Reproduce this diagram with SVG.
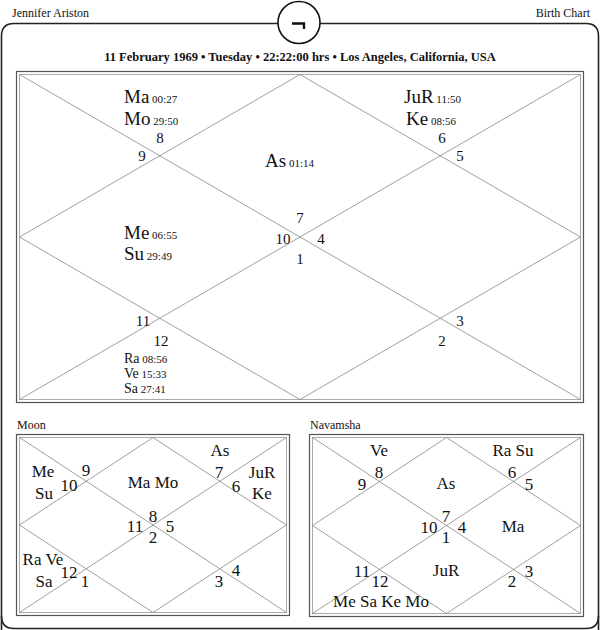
<svg xmlns="http://www.w3.org/2000/svg" width="600" height="630" viewBox="0 0 600 630">
<style>
text{font-family:"Liberation Serif","Times New Roman",serif;fill:#111}
.b{font-size:19px}
.s{font-size:11px}
.n{font-size:15px}
.m{font-size:17px}
.h{font-size:12px}
.bo{fill:none;stroke:#555;stroke-width:1.2}
.bi{fill:none;stroke:#aaa;stroke-width:1}
.ln{stroke:#888;stroke-width:0.8;fill:none}
.c{text-anchor:middle}
</style>
<rect width="600" height="630" fill="#fff"/>
<path d="M1.5,630 V36 Q1.5,23.5 14,23.5 H586 Q598.5,23.5 598.5,36 V630" fill="none" stroke="#222" stroke-width="1.6"/>
<path d="M1.5,616 Q1.5,628.5 14,628.5 H586 Q598.5,628.5 598.5,616" fill="none" stroke="#222" stroke-width="1.6"/>
<g id="header">
<text class="h" x="12" y="17">Jennifer Ariston</text>
<text class="h" x="590" y="17" text-anchor="end">Birth Chart</text>
<circle cx="299" cy="22.5" r="21" fill="#fff" stroke="#111" stroke-width="1.6"/>
<path d="M292,23.5 H304 V29" fill="none" stroke="#111" stroke-width="2.4"/>
<text x="300" y="61" class="c" style="font-size:12.5px;font-weight:bold">11 February 1969 • Tuesday • 22:22:00 hrs • Los Angeles, California, USA</text>
</g>
<g id="main-chart">
<rect class="bo" x="16.5" y="71.5" width="567" height="331"/>
<rect class="bi" x="19.5" y="74.5" width="561" height="325"/>
<g id="main-lines">
<line class="ln" x1="19.5" y1="74.5" x2="580.5" y2="399.5"/>
<line class="ln" x1="580.5" y1="74.5" x2="19.5" y2="399.5"/>
<polygon class="ln" points="300,74.5 580.5,237 300,399.5 19.5,237"/>
</g>
<g id="main-h8"><text x="124" y="103"><tspan class="b">Ma</tspan><tspan class="s"> 00:27</tspan></text><text x="124" y="125"><tspan class="b">Mo</tspan><tspan class="s"> 29:50</tspan></text><text class="n c" x="160" y="143">8</text></g>
<g id="main-h9"><text class="n c" x="142" y="161">9</text></g>
<g id="main-h7"><text x="265" y="167"><tspan class="b">As</tspan><tspan class="s"> 01:14</tspan></text><text class="n c" x="300" y="223">7</text></g>
<g id="main-h6"><text x="404" y="103"><tspan class="b">JuR</tspan><tspan class="s"> 11:50</tspan></text><text x="406" y="125"><tspan class="b">Ke</tspan><tspan class="s"> 08:56</tspan></text><text class="n c" x="442" y="143">6</text></g>
<g id="main-h5"><text class="n c" x="460" y="161">5</text></g>
<g id="main-h10"><text x="124" y="239"><tspan class="b">Me</tspan><tspan class="s"> 06:55</tspan></text><text x="124" y="260"><tspan class="b">Su</tspan><tspan class="s"> 29:49</tspan></text><text class="n c" x="283" y="244">10</text></g>
<g id="main-h4"><text class="n c" x="321" y="244">4</text></g>
<g id="main-h1"><text class="n c" x="300" y="264">1</text></g>
<g id="main-h11"><text class="n c" x="143" y="326">11</text></g>
<g id="main-h12"><text class="n c" x="161" y="346">12</text><text x="124" y="363"><tspan style="font-size:14px">Ra</tspan><tspan class="s"> 08:56</tspan></text><text x="124" y="378"><tspan style="font-size:14px">Ve</tspan><tspan class="s"> 15:33</tspan></text><text x="124" y="393"><tspan style="font-size:14px">Sa</tspan><tspan class="s"> 27:41</tspan></text></g>
<g id="main-h3"><text class="n c" x="460" y="326">3</text></g>
<g id="main-h2"><text class="n c" x="442" y="346">2</text></g>
</g>
<g id="moon-chart">
<text class="h" x="17" y="429">Moon</text>
<rect class="bo" x="16.5" y="434.5" width="273" height="181"/>
<rect class="bi" x="19.5" y="437.5" width="267" height="175"/>
<g id="moon-lines">
<line class="ln" x1="19.5" y1="437.5" x2="286.5" y2="612.5"/>
<line class="ln" x1="286.5" y1="437.5" x2="19.5" y2="612.5"/>
<polygon class="ln" points="153,437.5 286.5,525 153,612.5 19.5,525"/>
</g>
<text class="c m" x="220" y="456">As</text>
<text class="c m" x="43" y="477">Me</text>
<text class="c m" x="44" y="499">Su</text>
<text class="c m" x="86" y="476">9</text>
<text class="c m" x="69" y="491">10</text>
<text class="c m" x="153" y="488">Ma Mo</text>
<text class="c m" x="219" y="478">7</text>
<text class="c m" x="236" y="492">6</text>
<text class="c m" x="262" y="478">JuR</text>
<text class="c m" x="262" y="499">Ke</text>
<text class="c m" x="153" y="522">8</text>
<text class="c m" x="135" y="532">11</text>
<text class="c m" x="170" y="532">5</text>
<text class="c m" x="153" y="543">2</text>
<text class="c m" x="43" y="565">Ra Ve</text>
<text class="c m" x="69" y="578">12</text>
<text class="c m" x="85" y="587">1</text>
<text class="c m" x="44" y="587">Sa</text>
<text class="c m" x="236" y="576">4</text>
<text class="c m" x="219" y="587">3</text>
</g>
<g id="navamsha-chart">
<text class="h" x="310" y="429">Navamsha</text>
<rect class="bo" x="309.5" y="434.5" width="274" height="182"/>
<rect class="bi" x="312.5" y="437.5" width="268" height="176"/>
<g id="nav-lines">
<line class="ln" x1="312.5" y1="437.5" x2="580.5" y2="613.5"/>
<line class="ln" x1="580.5" y1="437.5" x2="312.5" y2="613.5"/>
<polygon class="ln" points="446.5,437.5 580.5,525.5 446.5,613.5 312.5,525.5"/>
</g>
<text class="c m" x="379" y="456">Ve</text>
<text class="c m" x="513" y="456">Ra Su</text>
<text class="c m" x="379" y="478">8</text>
<text class="c m" x="362" y="490">9</text>
<text class="c m" x="446" y="489">As</text>
<text class="c m" x="512" y="478">6</text>
<text class="c m" x="529" y="490">5</text>
<text class="c m" x="446" y="522">7</text>
<text class="c m" x="429" y="533">10</text>
<text class="c m" x="462" y="533">4</text>
<text class="c m" x="446" y="543">1</text>
<text class="c m" x="513" y="532">Ma</text>
<text class="c m" x="446" y="576">JuR</text>
<text class="c m" x="362" y="577">11</text>
<text class="c m" x="380" y="587">12</text>
<text class="c m" x="529" y="577">3</text>
<text class="c m" x="512" y="587">2</text>
<text class="c m" x="381" y="607">Me Sa Ke Mo</text>
</g>
</svg>
